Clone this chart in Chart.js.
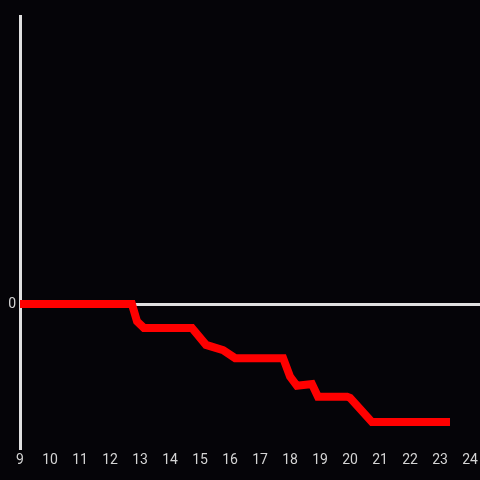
<!DOCTYPE html>
<html>
<head>
<meta charset="utf-8">
<script src="https://cdn.jsdelivr.net/npm/chart.js@4/dist/chart.umd.min.js"></script>
<style>
  html, body { margin: 0; padding: 0; background: #050408; }
  #wrap { width: 480px; height: 480px; }
</style>
</head>
<body>
<div id="wrap"><canvas id="canvas" width="480" height="480"></canvas></div>
<script>
// hour of day -> value
const hours = [9, 12.73, 12.9, 13.13, 14.73, 15.2, 15.77, 16.17, 17.77, 18.0, 18.23, 18.73, 18.93, 19.9, 20.0, 20.73, 23.33];
const values = [0, 0, -0.6, -0.83, -0.83, -1.42, -1.6, -1.88, -1.88, -2.52, -2.84, -2.78, -3.22, -3.22, -3.26, -4.1, -4.1];
const xTicks = [9, 10, 11, 12, 13, 14, 15, 16, 17, 18, 19, 20, 21, 22, 23, 24];
const yTicks = [0];

const textColor = '#d4d4d4';
const axisColor = '#e0e0e0';

function createVisualization() {
    const ctx = document.getElementById('canvas').getContext('2d');

    new Chart(ctx, {
        type: 'line',
        data: {
            datasets: [{
                data: hours.map((h, i) => ({ x: h, y: values[i] })),
                borderColor: '#ff0000',
                borderWidth: 8,
                pointRadius: 0,
                tension: 0,
                fill: false
            }]
        },
        plugins: [{
            id: 'bg',
            beforeDraw(chart) {
                const c = chart.ctx;
                c.save();
                c.fillStyle = '#050408';
                c.fillRect(0, 0, chart.width, chart.height);
                c.restore();
            }
        }],
        options: {
            responsive: false,
            animation: false,
            layout: { padding: { top: 16, right: 0, left: 0, bottom: 0 } },
            scales: {
                x: {
                    type: 'linear',
                    min: 9,
                    max: 24.33,
                    afterBuildTicks: s => { s.ticks = xTicks.map(v => ({ value: v })); },
                    afterFit: s => { s.height = 32; s.paddingRight = 0; s.paddingLeft = 0; },
                    grid: { display: false, drawTicks: false },
                    border: { display: false },
                    ticks: {
                        color: textColor,
                        font: { family: 'Roboto', size: 14 },
                        maxRotation: 0,
                        autoSkip: false,
                        padding: 4
                    }
                },
                y: {
                    type: 'linear',
                    min: -5,
                    max: 10,
                    afterBuildTicks: s => { s.ticks = yTicks.map(v => ({ value: v })); },
                    afterFit: s => { s.width = 20; s.paddingTop = 0; s.paddingBottom = 0; },
                    grid: {
                        drawTicks: false,
                        lineWidth: 3,
                        color: c => c.tick && c.tick.value === 0 ? axisColor : 'transparent'
                    },
                    border: { display: true, color: axisColor, width: 3 },
                    ticks: {
                        color: textColor,
                        font: { family: 'Roboto', size: 14 },
                        padding: 4
                    }
                }
            },
            plugins: {
                legend: { display: false },
                tooltip: { enabled: false }
            }
        }
    });
}

createVisualization();
</script>
</body>
</html>
